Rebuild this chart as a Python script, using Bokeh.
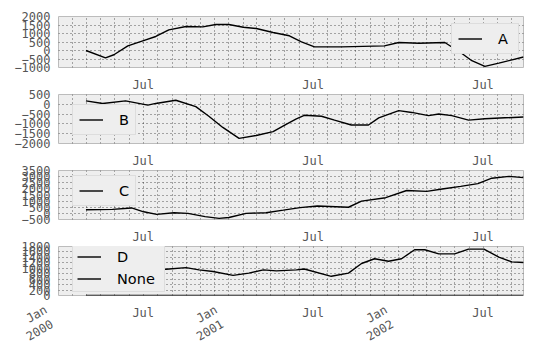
import math
import pandas as pd
from bokeh.plotting import figure
from bokeh.layouts import column
from bokeh.models import Range1d, FixedTicker, LinearAxis, Legend, LegendItem
from bokeh.embed import file_html
from bokeh.resources import INLINE

# ---------------- data ----------------
x_start = "2000-01-01"
x_end = "2002-09-26"

a_dates = ["2000-02-29", "2000-04-11", "2000-04-29", "2000-05-29", "2000-06-30", "2000-07-28",
           "2000-08-25", "2000-10-01", "2000-11-06", "2000-12-04", "2001-01-01", "2001-02-01",
           "2001-03-01", "2001-04-06", "2001-05-11", "2001-06-06", "2001-07-04", "2001-08-31",
           "2001-12-01", "2002-01-01", "2002-02-13", "2002-04-10", "2002-05-16", "2002-06-07",
           "2002-07-05", "2002-08-04", "2002-09-26"]
a_vals = [0, -430, -250, 275, 570, 825, 1215, 1410, 1390, 1530, 1530, 1370,
          1295, 1060, 865, 510, 215, 215, 275, 470, 430, 470, -160, -600,
          -930, -745, -380]

b_dates = ["2000-02-29", "2000-04-05", "2000-05-24", "2000-07-11", "2000-07-28", "2000-09-09",
           "2000-10-22", "2000-11-19", "2000-12-19", "2001-01-23", "2001-03-01", "2001-04-06",
           "2001-05-04", "2001-05-26", "2001-06-12", "2001-07-19", "2001-08-16", "2001-09-21",
           "2001-10-28", "2001-11-19", "2002-01-01", "2002-01-29", "2002-03-06", "2002-03-28",
           "2002-04-25", "2002-05-31", "2002-07-05", "2002-08-17", "2002-09-26"]
b_vals = [172, 44, 172, -40, 44, 206, -120, -610, -1180, -1740, -1590, -1395,
          -1020, -740, -560, -610, -810, -1055, -1055, -690, -320, -415, -580, -495,
          -580, -810, -740, -690, -650]

c_dates = ["2000-02-29", "2000-04-26", "2000-06-06", "2000-07-02", "2000-07-30", "2000-09-05",
           "2000-10-05", "2000-11-11", "2000-12-11", "2001-01-01", "2001-02-07", "2001-03-22",
           "2001-04-28", "2001-06-03", "2001-07-10", "2001-09-15", "2001-10-13", "2001-12-04",
           "2002-01-18", "2002-03-02", "2002-04-08", "2002-05-14", "2002-06-20", "2002-07-20",
           "2002-08-26", "2002-09-26"]
c_vals = [300, 330, 443, 129, -83, 50, -4, -263, -404, -340, 0, 50,
          262, 473, 600, 500, 1000, 1280, 1870, 1800, 2010, 2200, 2430, 2870,
          3020, 2920]

d_dates = ["2000-02-29", "2000-05-14", "2000-07-17", "2000-08-19", "2000-10-01", "2000-10-29",
           "2000-11-28", "2001-01-10", "2001-02-13", "2001-03-16", "2001-04-13", "2001-05-26",
           "2001-06-12", "2001-08-09", "2001-09-15", "2001-10-13", "2001-11-10", "2001-12-10",
           "2002-01-07", "2002-02-04", "2002-02-26", "2002-03-28", "2002-05-01", "2002-05-31",
           "2002-07-03", "2002-08-04", "2002-09-01", "2002-09-26"]
d_vals = [1050, 1100, 1020, 965, 1025, 940, 880, 740, 820, 940, 905, 940,
          975, 705, 820, 1175, 1350, 1260, 1350, 1680, 1680, 1530, 1530, 1705,
          1705, 1410, 1235, 1210]

none_dates = ["2000-02-29", "2002-09-26"]
none_vals = [0, 0]

a_ticks = [-1000, -500, 0, 500, 1000, 1500, 2000]
b_ticks = [-2000, -1500, -1000, -500, 0, 500]
c_ticks = [-500, 0, 500, 1000, 1500, 2000, 2500, 3000, 3500]
d_ticks = [0, 200, 400, 600, 800, 1000, 1200, 1400, 1600, 1800]

jul_dates = ["2000-07-01", "2001-07-01", "2002-07-01"]
jul_labels = ["Jul", "Jul", "Jul"]
jan_dates = ["2000-01-01", "2001-01-01", "2002-01-01"]
jan_month_labels = ["Jan", "Jan", "Jan"]
jan_year_labels = ["2000", "2001", "2002"]

# ---------------- helpers ----------------
def ms(s):
    return pd.Timestamp(s).value / 1e6

month_ms = [ms(d) for d in pd.date_range(x_start, x_end, freq="MS")]

TICK_FONT = "DejaVu Sans Mono"
TICK_SIZE = "12px"
TICK_COLOR = "#555555"
NBSP = "\u00a0"


def fmt(v):
    return ("\u2212" + str(abs(v))) if v < 0 else str(v)


def style_axis(ax):
    ax.axis_line_color = None
    ax.major_tick_line_color = None
    ax.minor_tick_line_color = None
    ax.major_tick_out = 0
    ax.major_tick_in = 0
    ax.minor_tick_out = 0
    ax.minor_tick_in = 0
    ax.major_label_text_font = TICK_FONT
    ax.major_label_text_font_size = TICK_SIZE
    ax.major_label_text_color = TICK_COLOR


def date_axis(dates, labels, standoff, orientation="horizontal", pad=0):
    ax = LinearAxis(ticker=FixedTicker(ticks=[ms(d) for d in dates]),
                    major_label_overrides={ms(d): l + NBSP * pad for d, l in zip(dates, labels)},
                    major_label_orientation=orientation)
    style_axis(ax)
    ax.major_label_standoff = standoff
    return ax


def panel(series, yr, yticks, height, top, bottom, legend_loc, legend_kw):
    p = figure(width=533, height=height, x_axis_type="datetime", x_axis_location=None,
               x_range=Range1d(ms(x_start), ms(x_end)), y_range=Range1d(*yr),
               output_backend="svg", toolbar_location=None,
               min_border_left=58, min_border_right=10,
               min_border_top=top, min_border_bottom=bottom,
               background_fill_color="#EEEEEE", border_fill_color="white",
               outline_line_color="#BCBCBC", outline_line_width=1)
    p.yaxis.ticker = FixedTicker(ticks=yticks)
    p.yaxis.major_label_overrides = {t: fmt(t) for t in yticks}
    style_axis(p.yaxis[0])
    p.yaxis.major_label_standoff = 8

    p.xgrid.ticker = FixedTicker(ticks=month_ms)
    p.ygrid.ticker = FixedTicker(ticks=yticks)
    for g in (p.xgrid[0], p.ygrid[0]):
        g.grid_line_color = "black"
        g.grid_line_dash = "1 3"
        g.grid_line_width = 0.8
        g.grid_line_alpha = 0.8

    items = []
    for name, dates, vals in series:
        r = p.line(x=[ms(d) for d in dates], y=vals, line_color="black", line_width=1.4)
        items.append(LegendItem(label=name, renderers=[r]))
    leg = Legend(items=items, location=legend_loc,
                 label_text_font="DejaVu Sans", label_text_font_size="14.5px",
                 label_text_color="black",
                 background_fill_color="#EEEEEE", background_fill_alpha=1.0,
                 border_line_color="#CCCCCC", border_line_width=1,
                 glyph_width=24, glyph_height=17, label_height=17,
                 label_standoff=16, margin=0, **legend_kw)
    p.add_layout(leg)
    return p


p1 = panel([("A", a_dates, a_vals)], (-1000, 2000), a_ticks, 74, 16, 7,
           (393, 13), dict(padding=6, spacing=6, label_width=14))

p2 = panel([("B", b_dates, b_vals)], (-2000, 500), b_ticks, 76, 18, 7,
           (14, 8), dict(padding=6, spacing=6, label_width=10))
p2.add_layout(date_axis(jul_dates, jul_labels, 3), "above")

p3 = panel([("C", c_dates, c_vals)], (-500, 3500), c_ticks, 76, 18, 7,
           (14, 13), dict(padding=6, spacing=6, label_width=10))
p3.add_layout(date_axis(jul_dates, jul_labels, 3), "above")

p4 = panel([("D", d_dates, d_vals), ("None", none_dates, none_vals)], (0, 1800), d_ticks,
           126, 18, 57, (14, 3), dict(padding=4, spacing=5, label_width=43))
p4.add_layout(date_axis(jul_dates, jul_labels, 3), "above")
p4.add_layout(date_axis(jul_dates, jul_labels, 10), "below")
p4.add_layout(date_axis(jan_dates, jan_month_labels, -21, math.pi / 6, pad=2), "below")
p4.add_layout(date_axis(jan_dates, jan_year_labels, -15, math.pi / 6, pad=1), "below")

layout = column(p1, p2, p3, p4, spacing=0)
open("out.html", "w").write(file_html(layout, INLINE))
